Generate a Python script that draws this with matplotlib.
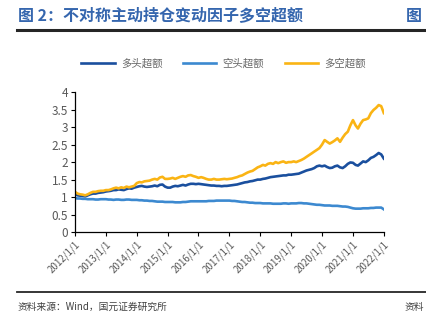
import matplotlib.pyplot as plt
import pandas as pd

plt.rcParams['font.family'] = ['Noto Sans CJK SC', 'DejaVu Sans']

# monthly values, 2012/1 .. 2022/1
long_excess = [
    1.08, 1.05, 1.04, 1.03, 1.02, 1.05, 1.08, 1.10, 1.10, 1.12, 1.13, 1.14,
    1.16, 1.17, 1.18, 1.20, 1.20, 1.22, 1.21, 1.20, 1.23, 1.25, 1.24, 1.27,
    1.29, 1.31, 1.32, 1.30, 1.29, 1.30, 1.31, 1.33, 1.31, 1.35, 1.36, 1.30,
    1.27, 1.27, 1.30, 1.32, 1.31, 1.33, 1.35, 1.33, 1.36, 1.38, 1.38, 1.37,
    1.38, 1.37, 1.36, 1.35, 1.34, 1.33, 1.33, 1.32, 1.32, 1.31, 1.32, 1.32,
    1.33, 1.34, 1.35, 1.36, 1.38, 1.40, 1.42, 1.43, 1.45, 1.46, 1.48, 1.50,
    1.50, 1.52, 1.53, 1.55, 1.57, 1.58, 1.59, 1.60, 1.61, 1.62, 1.62, 1.64,
    1.64, 1.65, 1.66, 1.67, 1.70, 1.73, 1.76, 1.78, 1.80, 1.83, 1.88, 1.90,
    1.88, 1.90, 1.86, 1.83, 1.84, 1.88, 1.90, 1.85, 1.83, 1.88, 1.95, 1.99,
    1.98, 1.92, 1.90, 1.96, 2.02, 2.00, 2.05, 2.12, 2.15, 2.20, 2.26, 2.22,
    2.10,
]
short_excess = [
    0.97, 0.96, 0.96, 0.95, 0.95, 0.94, 0.94, 0.94, 0.93, 0.93, 0.94, 0.94,
    0.94, 0.93, 0.93, 0.92, 0.93, 0.93, 0.92, 0.92, 0.93, 0.93, 0.92, 0.92,
    0.92, 0.91, 0.91, 0.90, 0.90, 0.89, 0.89, 0.88, 0.87, 0.87, 0.87, 0.86,
    0.86, 0.86, 0.86, 0.85, 0.85, 0.85, 0.86, 0.86, 0.87, 0.88, 0.88, 0.88,
    0.88, 0.88, 0.88, 0.88, 0.89, 0.89, 0.89, 0.90, 0.90, 0.90, 0.90, 0.90,
    0.90, 0.89, 0.89, 0.88, 0.87, 0.86, 0.86, 0.85, 0.84, 0.84, 0.83, 0.83,
    0.83, 0.82, 0.82, 0.82, 0.82, 0.81, 0.81, 0.81, 0.81, 0.82, 0.82, 0.81,
    0.82, 0.82, 0.82, 0.83, 0.83, 0.82, 0.82, 0.81, 0.80, 0.79, 0.78, 0.78,
    0.77, 0.76, 0.76, 0.76, 0.75, 0.75, 0.75, 0.74, 0.73, 0.73, 0.72, 0.70,
    0.68, 0.67, 0.67, 0.67, 0.68, 0.68, 0.68, 0.69, 0.69, 0.70, 0.70, 0.70,
    0.65,
]
ls_excess = [
    1.15, 1.10, 1.08, 1.07, 1.05, 1.08, 1.12, 1.15, 1.15, 1.17, 1.18, 1.18,
    1.20, 1.20, 1.22, 1.25, 1.27, 1.25, 1.28, 1.26, 1.30, 1.28, 1.30, 1.32,
    1.40, 1.43, 1.42, 1.45, 1.46, 1.47, 1.50, 1.52, 1.50, 1.56, 1.58, 1.52,
    1.52, 1.53, 1.55, 1.52, 1.55, 1.58, 1.60, 1.58, 1.62, 1.63, 1.60, 1.58,
    1.55, 1.57, 1.55, 1.52, 1.50, 1.50, 1.52, 1.50, 1.50, 1.51, 1.52, 1.51,
    1.52, 1.53, 1.55, 1.57, 1.60, 1.62, 1.66, 1.70, 1.73, 1.75, 1.80, 1.85,
    1.88, 1.92, 1.90, 1.95, 1.97, 1.95, 2.00, 1.97, 2.00, 2.02, 1.98, 2.00,
    2.00, 2.02, 2.00, 2.03, 2.06, 2.10, 2.15, 2.20, 2.25, 2.30, 2.35, 2.40,
    2.50, 2.63, 2.58, 2.53, 2.57, 2.62, 2.68, 2.58, 2.70, 2.80, 2.87, 3.05,
    3.20, 3.05, 2.96, 3.10, 3.20, 3.22, 3.25, 3.40, 3.49, 3.55, 3.63, 3.60,
    3.40,
]
series_names = ['多头超额', '空头超额', '多空超额']
tick_years = list(range(2012, 2023))

dates = pd.date_range('2012-01-01', periods=len(long_excess), freq='MS')
df = pd.DataFrame({'long': long_excess, 'short': short_excess, 'ls': ls_excess}, index=dates)

fig = plt.figure(figsize=(4.26, 3.21), dpi=100)
ax = fig.add_axes([0.176, 0.277, 0.725, 0.436])

ax.plot(df.index, df['long'], color='#1A4F9E', lw=1.9, label=series_names[0])
ax.plot(df.index, df['short'], color='#3C89D0', lw=1.9, label=series_names[1])
ax.plot(df.index, df['ls'], color='#FAB414', lw=1.9, label=series_names[2])

ax.set_ylim(0, 4)
ax.set_yticks([0, 0.5, 1, 1.5, 2, 2.5, 3, 3.5, 4])
ax.set_yticklabels(['0', '0.5', '1', '1.5', '2', '2.5', '3', '3.5', '4'])
ticks = [pd.Timestamp(y, 1, 1) for y in tick_years]
ax.set_xlim(ticks[0], ticks[-1])
ax.set_xticks(ticks)
ax.set_xticklabels([f'{y}/1/1' for y in tick_years], rotation=45, ha='right',
                   rotation_mode='anchor')

for s in ['top', 'right']:
    ax.spines[s].set_visible(False)
for s in ['left', 'bottom']:
    ax.spines[s].set_color('#000000')
    ax.spines[s].set_linewidth(0.9)
ax.tick_params(axis='y', labelsize=8.5, colors='#000000', labelcolor='#595959',
               length=3, width=0.8, pad=2)
ax.tick_params(axis='x', labelsize=7, colors='#000000', labelcolor='#595959',
               length=3, width=0.8, pad=2)

fig.legend(loc='center', bbox_to_anchor=(0.525, 0.803), ncol=3, frameon=False,
           fontsize=7.5, handlelength=3.2, columnspacing=2.0, handletextpad=0.6,
           labelcolor='#666666')

# title, rules and footer
fig.text(0.042, 0.95, '图 2：不对称主动持仓变动因子多空超额', fontsize=11.5,
         fontweight='bold', color='#3566AE', va='center')
fig.text(0.952, 0.95, '图 3', fontsize=11.5, fontweight='bold', color='#3566AE',
         va='center', clip_on=True)
fig.add_artist(plt.Line2D([0.04, 1.0], [0.908, 0.908], color='#262626', lw=2.2))
fig.add_artist(plt.Line2D([0.04, 1.0], [0.09, 0.09], color='#262626', lw=1.3))
fig.text(0.042, 0.043, '资料来源：Wind，国元证券研究所', fontsize=7, color='#404040',
         va='center')
fig.text(0.95, 0.043, '资料', fontsize=7, color='#404040', va='center')

plt.savefig('out.png', dpi=100)
